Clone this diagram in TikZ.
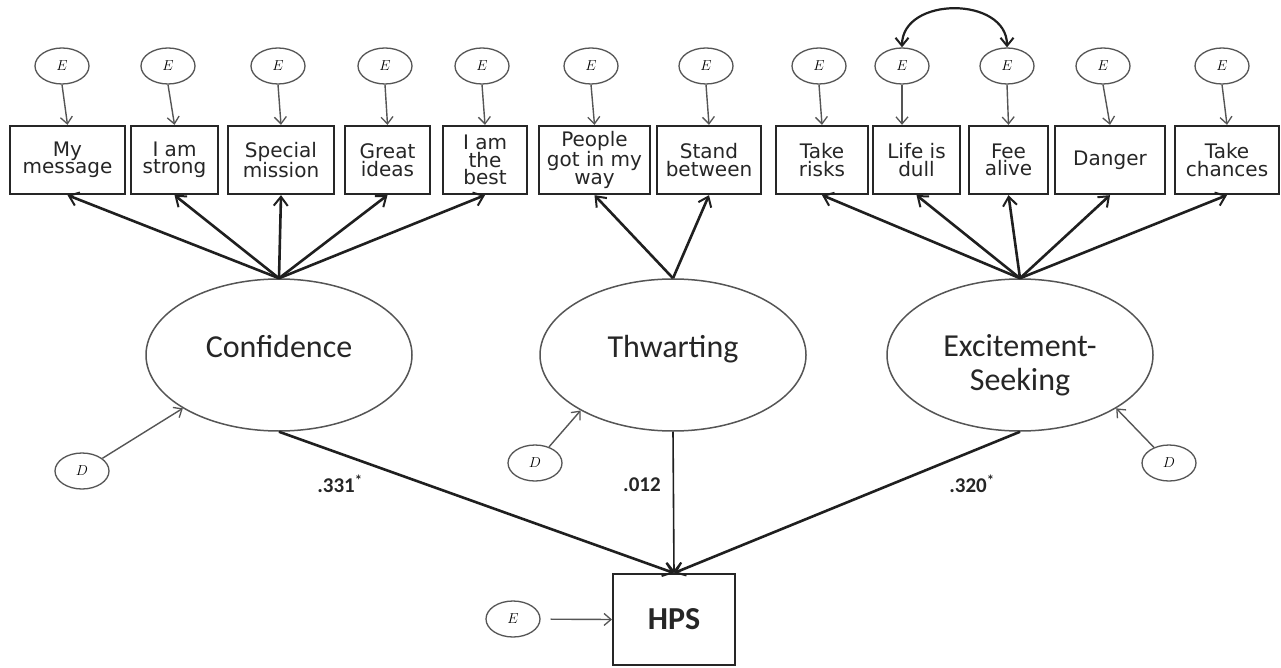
\documentclass[tikz,border=0pt]{standalone}
\usepackage{fontspec}
\usetikzlibrary{arrows.meta,shapes.geometric}
\newfontfamily\boxfont{DejaVu Sans}
\newfontfamily\latfont{Carlito}
\definecolor{edgegray}{HTML}{555555}
\definecolor{inkgray}{HTML}{262626}
\begin{document}
\begin{tikzpicture}[x=1pt,y=-1pt,
  obsbox/.style={draw=inkgray, line width=2.3pt, minimum height=68pt, inner sep=0pt, align=center,
    font=\boxfont\fontsize{20}{17.5}\selectfont, text=inkgray},
  errnode/.style={ellipse, draw=edgegray, line width=1.3pt, minimum width=54pt, minimum height=36pt,
    inner sep=0pt, font=\fontsize{15}{15}\selectfont},
  latent/.style={ellipse, draw=edgegray, line width=1.5pt, minimum width=266pt, minimum height=152pt, inner sep=0pt},
  lattext/.style={align=center, font=\latfont\fontsize{32}{34}\selectfont, text=inkgray, inner sep=0pt},
  erra/.style={draw=edgegray, line width=1.4pt, -{Straight Barb[length=7pt,width=12pt,line width=1.3pt]}},
  load/.style={draw=black!88, line width=2.6pt, -{Straight Barb[length=9pt,width=14pt,line width=2pt]}},
  thinload/.style={draw=black!88, line width=1.6pt, -{Straight Barb[length=9pt,width=14pt,line width=1.6pt]}},
  covar/.style={draw=black!88, line width=2.2pt, {Straight Barb[length=8pt,width=13pt,line width=2pt]}-{Straight Barb[length=8pt,width=13pt,line width=2pt]}},
  coef/.style={font=\latfont\bfseries\fontsize{21}{21}\selectfont, text=inkgray, inner sep=0pt}
]
\useasboundingbox (0,0) rectangle (1281,668);
\fill[white] (0,0) rectangle (1281,668);

% observed indicator boxes
\node[obsbox, minimum width=115pt] (b1) at (67.5,160) {My\\message};
\node[obsbox, minimum width=87pt] (b2) at (174.5,160) {I am\\strong};
\node[obsbox, minimum width=106pt] (b3) at (281,160) {Special\\mission};
\node[obsbox, minimum width=85pt] (b4) at (387.5,160) {Great\\ideas};
\node[obsbox, minimum width=84pt] (b5) at (485,160) {I am\\the\\best};
\node[obsbox, minimum width=111pt] (b6) at (594.5,160) {People\\got in my\\way};
\node[obsbox, minimum width=104pt] (b7) at (709,160) {Stand\\between};
\node[obsbox, minimum width=92pt] (b8) at (822,160) {Take\\risks};
\node[obsbox, minimum width=87pt] (b9) at (916.5,160) {Life is\\dull};
\node[obsbox, minimum width=79pt] (b10) at (1008.5,160) {Fee\\alive};
\node[obsbox, minimum width=110pt] (b11) at (1110,160) {Danger};
\node[obsbox, minimum width=104pt] (b12) at (1227,160) {Take\\chances};

% error terms
\node[errnode] (e1) at (62,66) {$E$};
\node[errnode] (e2) at (168,66) {$E$};
\node[errnode] (e3) at (278,66) {$E$};
\node[errnode] (e4) at (385,66) {$E$};
\node[errnode] (e5) at (482,66) {$E$};
\node[errnode] (e6) at (591,66) {$E$};
\node[errnode] (e7) at (706,66) {$E$};
\node[errnode] (e8) at (819,66) {$E$};
\node[errnode] (e9) at (902,66) {$E$};
\node[errnode] (e10) at (1007,66) {$E$};
\node[errnode] (e11) at (1103,66) {$E$};
\node[errnode] (e12) at (1222,66) {$E$};

\foreach \i in {1,2,3,4,5,6,7,8,10,11,12}
  \draw[erra] (e\i.south) -- (b\i.north);
\draw[erra] (e9.south) -- (e9.south |- b9.north);

% covariance
\draw[covar] (e9.north) .. controls (902,-4) and (1007,-4) .. (e10.north);

% latent factors
\node[latent] (conf) at (279,355) {};
\node[lattext, anchor=base] (tconf) at (279,357) {Confidence};
\node[latent] (thw) at (673,355) {};
\node[lattext, anchor=base] (tthw) at (673,357) {Thwarting};
\node[latent] (exc) at (1020,355) {};
\node[lattext] (texc) at (1020,365) {Excitement-\\Seeking};

% loadings
\foreach \i in {1,...,5}
  \draw[load] (conf.north) -- (b\i.south);
\foreach \i in {6,7}
  \draw[load] (thw.north) -- (b\i.south);
\foreach \i in {8,...,12}
  \draw[load] (exc.north) -- (b\i.south);

% disturbances
\node[errnode] (dC) at (82,471) {$D$};
\node[errnode] (dT) at (535,463) {$D$};
\node[errnode] (dE) at (1169,463) {$D$};
\draw[erra] (dC) -- (conf.209.7);
\draw[erra] (dT) -- (thw.211.1);
\draw[erra] (dE) -- (exc.331.3);

% outcome
\node[draw=inkgray, line width=2pt, minimum width=122pt, minimum height=91pt, inner sep=0pt,
  font=\latfont\bfseries\fontsize{32}{32}\selectfont, text=inkgray] (hps) at (674,619.5) {HPS};
\node[errnode] (eH) at (513,619) {$E$};
\draw[erra, shorten <=10pt] (eH) -- (hps.west);

\draw[load] (conf.south) -- (hps.north);
\draw[thinload] (thw.south) -- (hps.north);
\draw[load] (exc.south) -- (hps.north);

% coefficients
\node[coef] (c1) at (340,484) {.331\textsuperscript{*}};
\node[coef] (c2) at (642,485) {.012};
\node[coef] (c3) at (972,484) {.320\textsuperscript{*}};
\end{tikzpicture}
\end{document}
